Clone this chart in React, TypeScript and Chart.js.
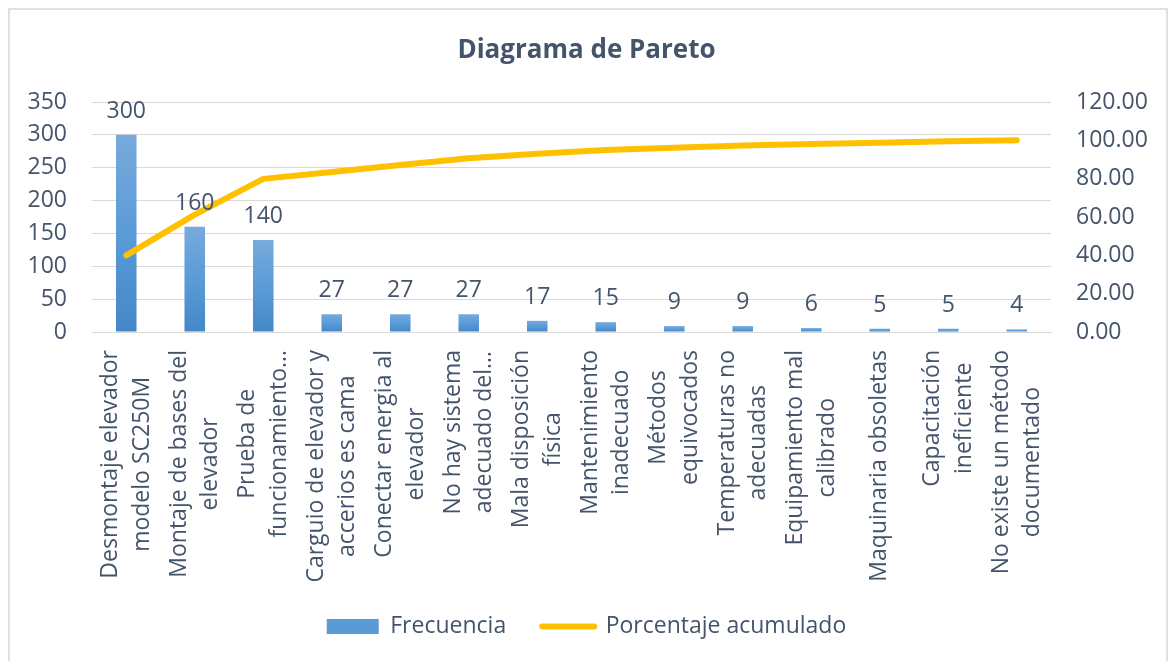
import React, { useEffect, useRef } from 'react';
import { Chart, registerables } from 'chart.js';

Chart.register(...registerables);

const categories: string[][] = [
  ['Desmontaje elevador', 'modelo SC250M'],
  ['Montaje de bases del', 'elevador'],
  ['Prueba de', 'funcionamiento…'],
  ['Carguio de elevador y', 'accerios es cama'],
  ['Conectar energia al', 'elevador'],
  ['No hay sistema', 'adecuado del…'],
  ['Mala disposición', 'física'],
  ['Mantenimiento', 'inadecuado'],
  ['Métodos', 'equivocados'],
  ['Temperaturas no', 'adecuadas'],
  ['Equipamiento mal', 'calibrado'],
  ['Maquinaria obsoletas'],
  ['Capacitación', 'ineficiente'],
  ['No existe un método', 'documentado'],
];

const frecuencia: number[] = [300, 160, 140, 27, 27, 27, 17, 15, 9, 9, 6, 5, 5, 4];
const porcentajeAcumulado: number[] = [39.95, 61.25, 79.89, 83.49, 87.08, 90.68, 92.94, 94.94, 96.14, 97.34, 98.14, 98.8, 99.47, 100.0];

const leftAxis = { min: 0, max: 350, step: 50 };
const rightAxis = { min: 0, max: 120, step: 20 };

const seriesNames = ['Frecuencia', 'Porcentaje acumulado'];
const titleText = 'Diagrama de Pareto';

const FONT = "'Open Sans', 'DejaVu Sans', sans-serif";
const TEXT = '#44546A';
const GRID = '#D9D9D9';
const BAR = '#5B9BD5';
const LINE = '#FFC000';

const W = 1173;
const H = 661;

const borderPlugin = {
  id: 'frameBorder',
  beforeDraw(chart: any) {
    const ctx = chart.ctx;
    ctx.save();
    ctx.strokeStyle = '#DCE1E8';
    ctx.lineWidth = 2;
    ctx.beginPath();
    ctx.moveTo(9, H + 2);
    ctx.lineTo(9, 9);
    ctx.lineTo(1167, 9);
    ctx.lineTo(1167, H + 2);
    ctx.stroke();
    ctx.restore();
  },
};

const barLabelPlugin = {
  id: 'barLabels',
  afterDatasetsDraw(chart: any) {
    const ctx = chart.ctx;
    const meta = chart.getDatasetMeta(0);
    ctx.save();
    ctx.font = `23px ${FONT}`;
    ctx.fillStyle = TEXT;
    ctx.textAlign = 'center';
    ctx.textBaseline = 'alphabetic';
    meta.data.forEach((el: any, i: number) => {
      ctx.fillText(String(frecuencia[i]), el.x, el.y - 17);
    });
    ctx.restore();
  },
};

const xLabelPlugin = {
  id: 'xLabels',
  afterDraw(chart: any) {
    const ctx = chart.ctx;
    const xs = chart.scales.x;
    const topY = chart.chartArea.bottom + 18;
    const spacing = 31.5;
    ctx.save();
    ctx.font = `23px ${FONT}`;
    ctx.fillStyle = TEXT;
    ctx.textAlign = 'center';
    ctx.textBaseline = 'middle';
    categories.forEach((lines, i) => {
      const x = xs.getPixelForValue(i);
      const maxW = Math.max(...lines.map((l) => ctx.measureText(l).width));
      ctx.save();
      ctx.translate(x, topY);
      ctx.rotate(-Math.PI / 2);
      lines.forEach((l, j) => {
        const off = (j - (lines.length - 1) / 2) * spacing;
        ctx.fillText(l, -maxW / 2, off);
      });
      ctx.restore();
    });
    ctx.restore();
  },
};

function barGradient(c: any) {
  const chart = c.chart;
  if (c.type !== 'data' || !chart.chartArea || !chart.scales || !chart.scales.y) return BAR;
  const ys = chart.scales.y;
  const top = ys.getPixelForValue(c.raw);
  const bottom = ys.getPixelForValue(0);
  if (!isFinite(top) || !isFinite(bottom) || bottom - top < 1) return BAR;
  const g = chart.ctx.createLinearGradient(0, top, 0, bottom);
  g.addColorStop(0, '#78AADC');
  g.addColorStop(0.5, '#5A9BD8');
  g.addColorStop(1, '#4588C7');
  return g;
}

export default function App() {
  const ref = useRef<HTMLCanvasElement | null>(null);

  useEffect(() => {
    if (!ref.current) return;
    const chart = new Chart(ref.current, {
      type: 'bar',
      data: {
        labels: categories.map((c) => c.join(' ')),
        datasets: [
          {
            type: 'bar',
            label: seriesNames[0],
            data: frecuencia,
            yAxisID: 'y',
            backgroundColor: barGradient as any,
            borderWidth: 0,
            categoryPercentage: 1,
            barPercentage: 0.3,
            order: 2,
          },
          {
            type: 'line',
            label: seriesNames[1],
            data: porcentajeAcumulado,
            yAxisID: 'y1',
            borderColor: LINE,
            backgroundColor: LINE,
            borderWidth: 6,
            pointRadius: 0,
            pointHoverRadius: 0,
            tension: 0,
            fill: false,
            borderCapStyle: 'round',
            borderJoinStyle: 'round',
            order: 1,
          } as any,
        ],
      },
      options: {
        responsive: false,
        animation: false,
        devicePixelRatio: 1,
        layout: { padding: { left: 0, right: 0, top: 0, bottom: 13 } },
        plugins: {
          title: {
            display: true,
            text: titleText,
            color: TEXT,
            font: { family: FONT, size: 26, weight: 'bold', lineHeight: 1.2 },
            padding: { top: 35, bottom: 35.8 },
          },
          legend: {
            display: true,
            position: 'bottom',
            labels: {
              font: { family: FONT, size: 23 },
              color: TEXT,
              boxWidth: 52,
              boxHeight: 15,
              usePointStyle: true,
              pointStyleWidth: 52,
              padding: 36,
              generateLabels: () => [
                {
                  text: seriesNames[0],
                  fillStyle: BAR,
                  strokeStyle: BAR,
                  lineWidth: 0,
                  pointStyle: 'rect',
                  fontColor: TEXT,
                  hidden: false,
                  datasetIndex: 0,
                },
                {
                  text: seriesNames[1],
                  fillStyle: LINE,
                  strokeStyle: LINE,
                  lineWidth: 6,
                  lineCap: 'round',
                  pointStyle: 'line',
                  fontColor: TEXT,
                  hidden: false,
                  datasetIndex: 1,
                },
              ] as any,
            },
          },
          tooltip: { enabled: false },
        },
        scales: {
          x: {
            grid: { display: false },
            border: { display: true, color: GRID, width: 1 },
            ticks: { display: false },
            afterFit: (s: any) => {
              s.height = 247;
            },
          },
          y: {
            position: 'left',
            min: leftAxis.min,
            max: leftAxis.max,
            ticks: {
              stepSize: leftAxis.step,
              color: TEXT,
              font: { family: FONT, size: 23 },
              padding: 25,
            },
            grid: { color: GRID, lineWidth: 1, drawTicks: false },
            border: { display: false },
            afterFit: (s: any) => {
              s.width = 92;
            },
          },
          y1: {
            position: 'right',
            min: rightAxis.min,
            max: rightAxis.max,
            ticks: {
              stepSize: rightAxis.step,
              color: TEXT,
              font: { family: FONT, size: 23 },
              padding: 25,
              callback: (v: any) => Number(v).toFixed(2),
            },
            grid: { drawOnChartArea: false, drawTicks: false },
            border: { display: false },
            afterFit: (s: any) => {
              s.width = 122;
            },
          },
        },
      },
      plugins: [borderPlugin, barLabelPlugin, xLabelPlugin],
    } as any);
    return () => chart.destroy();
  }, []);

  return (
    <div style={{ position: 'absolute', left: 0, top: 0, width: W, height: H, background: '#fff' }}>
      <canvas ref={ref} width={W} height={H} style={{ display: 'block', width: W, height: H }} />
    </div>
  );
}
